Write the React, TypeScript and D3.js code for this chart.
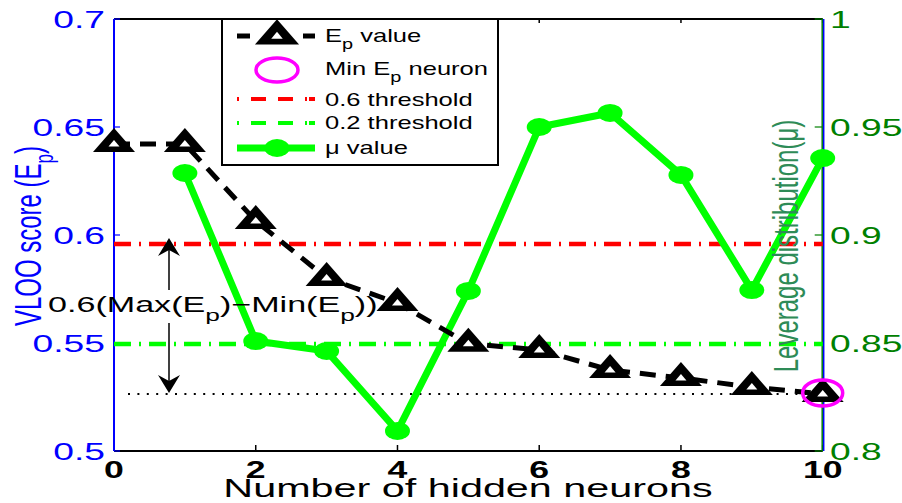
import React from "react";
import * as d3 from "d3";

const neurons = [0, 1, 2, 3, 4, 5, 6, 7, 8, 9, 10];
const epValues = [0.6421, 0.6421, 0.6065, 0.5801, 0.5685, 0.5497, 0.5468, 0.5375, 0.5338, 0.5296, 0.5264];
const muNeurons = [1, 2, 3, 4, 5, 6, 7, 8, 9, 10];
const muValues = [0.9287, 0.8509, 0.8463, 0.8093, 0.8741, 0.95, 0.9565, 0.9278, 0.8745, 0.9356];
const threshold06 = 0.5958;
const threshold02 = 0.5495;
const minEp = 0.5264;
const minEpNeuron = 10;
const xTicks = [0, 2, 4, 6, 8, 10];
const leftTicks = [0.5, 0.55, 0.6, 0.65, 0.7];
const leftTickLabels = ["0.5", "0.55", "0.6", "0.65", "0.7"];
const rightTicks = [0.8, 0.85, 0.9, 0.95, 1];
const rightTickLabels = ["0.8", "0.85", "0.9", "0.95", "1"];

const W = 902, H = 503;
const L = 114, R = 822.7, T = 19, B = 451;
const FONT = "'Liberation Sans', Arial, Helvetica, sans-serif";
const GREEN = "#00ff00";
const DKGREEN = "#008000";
const LBLGREEN = "#2e8b57";
const DASHDOT = "17 8 2 8";

const x = d3.scaleLinear().domain([0, 10]).range([L, R]);
const yL = d3.scaleLinear().domain([0.5, 0.7]).range([B, T]);
const yR = d3.scaleLinear().domain([0.8, 1]).range([B, T]);

function S({ x, y, sx, size, anchor = "start", fill = "#000", weight = "normal", children, rotate = 0 }: any) {
  return (
    <g transform={`translate(${x},${y}) scale(${sx},1) rotate(${rotate})`}>
      <text x={0} y={0} fontSize={size} fontFamily={FONT} fill={fill} fontWeight={weight} textAnchor={anchor}>
        {children}
      </text>
    </g>
  );
}

function Tri({ cx, cy, k = 1 }: any) {
  const outer = `M${cx},${cy - 16 * k} L${cx + 21 * k},${cy + 8 * k} L${cx - 21 * k},${cy + 8 * k} Z`;
  const inner = `M${cx},${cy - 4 * k} L${cx + 5.5 * k},${cy + 2.5 * k} L${cx - 5.5 * k},${cy + 2.5 * k} Z`;
  return (
    <g>
      <path d={outer} fill="#000" />
      <path d={inner} fill="#fff" />
    </g>
  );
}

function Arrow({ tx, ty, dir }: any) {
  const d = `M${tx},${ty} L${tx + 11},${ty + 18 * dir} L${tx},${ty + 12 * dir} L${tx - 11},${ty + 18 * dir} Z`;
  return <path d={d} fill="#000" />;
}

export default function App() {
  const epLine = d3.line<number>().x((_, i) => x(neurons[i])).y((d) => yL(d))(epValues) || "";
  const muLine = d3.line<number>().x((_, i) => x(muNeurons[i])).y((d) => yR(d))(muValues) || "";
  const lgX0 = 237, lgX1 = 315, lgM = 277, lgT = 325;
  const rows = [36, 70, 99, 123, 148];
  return (
    <svg width={W} height={H} style={{ position: "absolute", left: 0, top: 0, background: "#fff" }}>
      <rect x={0} y={0} width={W} height={H} fill="#fff" />
      <line x1={L} x2={R} y1={T} y2={T} stroke="#000" strokeWidth={2} />
      <line x1={L} x2={R} y1={B} y2={B} stroke="#000" strokeWidth={2} />
      {xTicks.map((t) => (
        <g key={"xt" + t}>
          <line x1={x(t)} x2={x(t)} y1={B} y2={B - 6} stroke="#000" strokeWidth={1.5} />
          <line x1={x(t)} x2={x(t)} y1={T} y2={T + 4} stroke="#000" strokeWidth={1.5} />
          <S x={x(t)} y={478} sx={1.55} size={23} anchor="middle" weight="bold">{String(t)}</S>
        </g>
      ))}
      <line x1={L} x2={L} y1={T} y2={B} stroke="#0000ff" strokeWidth={2} />
      {leftTicks.map((t, i) => (
        <g key={"lt" + t}>
          <line x1={L} x2={L + 6} y1={yL(t)} y2={yL(t)} stroke="#0000ff" strokeWidth={1.2} />
          <S x={105} y={yL(t) + 8.5} sx={1.55} size={24} anchor="end" fill="#0000ff">{leftTickLabels[i]}</S>
        </g>
      ))}
      <line x1={R - 0.5} x2={R - 0.5} y1={T} y2={B} stroke={DKGREEN} strokeWidth={1.5} />
      <line x1={R + 1} x2={R + 1} y1={T} y2={B} stroke="#0000ff" strokeWidth={1.5} />
      {rightTicks.map((t, i) => (
        <g key={"rt" + t}>
          <line x1={R} x2={R - 8} y1={yR(t)} y2={yR(t)} stroke={DKGREEN} strokeWidth={1.2} />
          <S x={830} y={yR(t) + 8.5} sx={1.55} size={24} anchor="start" fill={DKGREEN}>{rightTickLabels[i]}</S>
        </g>
      ))}
      <line x1={L} x2={R} y1={yL(threshold06)} y2={yL(threshold06)} stroke="#ff0000" strokeWidth={4.5} strokeDasharray={DASHDOT} />
      <line x1={L} x2={R} y1={yL(threshold02)} y2={yL(threshold02)} stroke={GREEN} strokeWidth={4.5} strokeDasharray={DASHDOT} />
      <line x1={128} x2={R} y1={yL(minEp)} y2={yL(minEp)} stroke="#000" strokeWidth={2} strokeDasharray="2 7.4" />
      <path d={muLine} fill="none" stroke={GREEN} strokeWidth={7} strokeLinejoin="round" />
      {muValues.map((v, i) => (
        <ellipse key={"mu" + i} cx={x(muNeurons[i])} cy={yR(v)} rx={12.5} ry={9} fill={GREEN} />
      ))}
      <path d={epLine} fill="none" stroke="#000" strokeWidth={5} strokeDasharray="16 10" />
      {epValues.map((v, i) => (
        <Tri key={"ep" + i} cx={x(neurons[i])} cy={yL(v)} />
      ))}
      <ellipse cx={x(minEpNeuron)} cy={yL(minEp) - 1} rx={20} ry={13} fill="none" stroke="#ff00ff" strokeWidth={3.5} />
      <line x1={169} x2={169} y1={290} y2={248} stroke="#000" strokeWidth={1.5} />
      <Arrow tx={169} ty={238} dir={1} />
      <line x1={169} x2={169} y1={323} y2={383} stroke="#000" strokeWidth={1.5} />
      <Arrow tx={169} ty={393} dir={-1} />
      <g transform="translate(48,312) scale(1.55,1)">
        <text x={0} y={0} fontSize={22} fontFamily={FONT} fill="#000">
          0.6(Max(E<tspan fontSize={17} dy={9}>p</tspan><tspan dy={-9}>)−Min(E</tspan><tspan fontSize={17} dy={9}>p</tspan><tspan dy={-9}>))</tspan>
        </text>
      </g>
      <S x={468} y={497} sx={1.59} size={26} anchor="middle">Number of hidden neurons</S>
      <g transform="translate(41,236) scale(1.55,1) rotate(-90)">
        <text x={0} y={0} fontSize={24} fontFamily={FONT} fill="#0000ff" textAnchor="middle">
          VLOO score (E<tspan fontSize={17} dy={8}>p</tspan><tspan dy={-8}>)</tspan>
        </text>
      </g>
      <g transform="translate(798,246) scale(1.45,1) rotate(-90)">
        <text x={0} y={0} fontSize={24} fontFamily={FONT} fill={LBLGREEN} textAnchor="middle">
          Leverage distribution(μ)
        </text>
      </g>
      <rect x={222} y={19} width={276} height={146} fill="#fff" stroke="#000" strokeWidth={2} />
      <line x1={lgX0} x2={250} y1={rows[0]} y2={rows[0]} stroke="#000" strokeWidth={5} />
      <line x1={303} x2={lgX1} y1={rows[0]} y2={rows[0]} stroke="#000" strokeWidth={5} />
      <Tri cx={lgM} cy={rows[0]} k={1.05} />
      <ellipse cx={lgM} cy={rows[1]} rx={21} ry={12} fill="none" stroke="#ff00ff" strokeWidth={3.5} />
      <line x1={lgX0} x2={lgX1} y1={rows[2]} y2={rows[2]} stroke="#ff0000" strokeWidth={4} strokeDasharray="2 12 15 12 15 12 2" />
      <line x1={lgX0} x2={lgX1} y1={rows[3]} y2={rows[3]} stroke={GREEN} strokeWidth={4} strokeDasharray="2 12 15 12 15 12 2" />
      <line x1={lgX0} x2={lgX1} y1={rows[4]} y2={rows[4]} stroke={GREEN} strokeWidth={7} />
      <ellipse cx={lgM} cy={rows[4]} rx={12.5} ry={9} fill={GREEN} />
      <g transform={`translate(${lgT},42) scale(1.42,1)`}>
        <text fontSize={18} fontFamily={FONT}>E<tspan fontSize={14} dy={7}>p</tspan><tspan dy={-7}> value</tspan></text>
      </g>
      <g transform={`translate(${lgT},75) scale(1.42,1)`}>
        <text fontSize={18} fontFamily={FONT}>Min E<tspan fontSize={14} dy={7}>p</tspan><tspan dy={-7}> neuron</tspan></text>
      </g>
      <S x={lgT} y={106} sx={1.42} size={18}>0.6 threshold</S>
      <S x={lgT} y={129} sx={1.42} size={18}>0.2 threshold</S>
      <S x={lgT} y={154} sx={1.42} size={18}>μ value</S>
    </svg>
  );
}
